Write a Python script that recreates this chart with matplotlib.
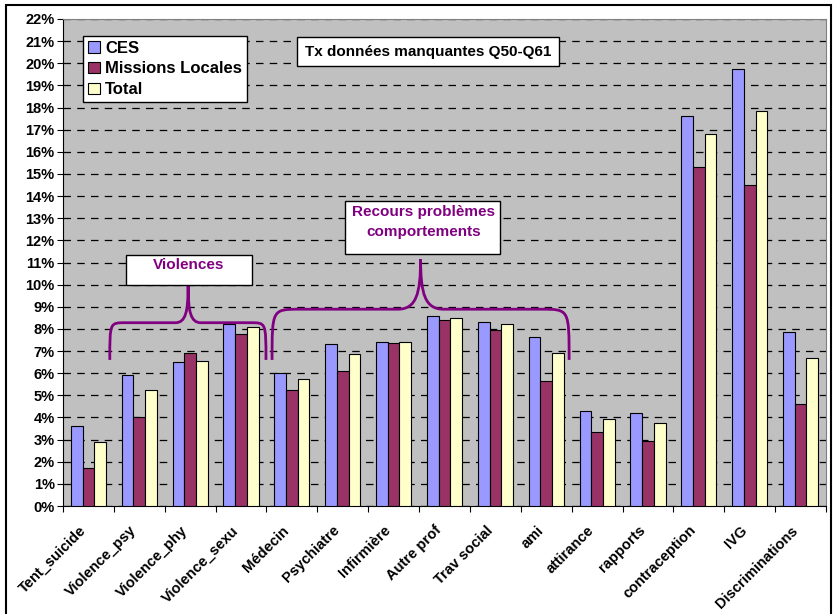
import numpy as np
import matplotlib.pyplot as plt
from matplotlib.patches import Rectangle, PathPatch
from matplotlib.path import Path

plt.rcParams['font.family'] = ['Liberation Sans', 'DejaVu Sans']
plt.rcParams['font.weight'] = 'bold'

# ---------------- Data ----------------
categories = ["Tent_suicide", "Violence_psy", "Violence_phy", "Violence_sexu",
              "Médecin", "Psychiatre", "Infirmière", "Autre prof", "Trav social",
              "ami", "attirance", "rapports", "contraception", "IVG",
              "Discriminations"]
ces = [3.6, 5.9, 6.5, 8.2, 6.0, 7.3, 7.4, 8.6, 8.3, 7.65, 4.3, 4.2, 17.6, 19.75, 7.85]
missions = [1.7, 4.0, 6.9, 7.75, 5.25, 6.1, 7.35, 8.4, 7.95, 5.65, 3.35, 2.95, 15.3, 14.5, 4.6]
total = [2.9, 5.25, 6.55, 8.1, 5.75, 6.85, 7.4, 8.5, 8.2, 6.9, 3.95, 3.75, 16.8, 17.85, 6.7]
series = [("CES", ces, "#9999FF"),
          ("Missions Locales", missions, "#993366"),
          ("Total", total, "#FFFFCC")]

purple = "#800080"

# ---------------- Figure ----------------
fig = plt.figure(figsize=(8.36, 6.14), dpi=100)
fig.patch.set_facecolor("white")
ax = fig.add_axes([63 / 836, 108 / 614, 763 / 836, 487 / 614])
ax.set_facecolor("#C0C0C0")

x = np.arange(len(categories))
w = 0.23
for i, (name, vals, col) in enumerate(series):
    ax.bar(x + (i - 1) * w, vals, width=w, color=col, edgecolor="black",
           linewidth=0.8, label=name, zorder=3)

ax.set_xlim(-0.5, len(categories) - 0.5)
ax.set_ylim(0, 22)
ax.set_yticks(np.arange(0, 23, 1))
ax.set_yticklabels([f"{v}%" for v in range(0, 23)], fontsize=10.5, fontweight="bold")
ax.yaxis.grid(True, color="black", linestyle=(0, (6, 5)), linewidth=0.9, zorder=0)
ax.set_axisbelow(True)

ax.set_xticks(x - 0.1)
ax.set_xticklabels(categories, rotation=45, ha="right", va="center",
                   rotation_mode="anchor", fontsize=10.5, fontweight="bold")
ax.set_xticks(np.arange(-0.5, len(categories), 1), minor=True)
ax.tick_params(axis="x", which="major", length=0, pad=16)
ax.tick_params(axis="x", which="minor", length=4, width=0.8, direction="out")
ax.tick_params(axis="y", length=4, width=0.8, pad=2)

ax.spines["left"].set_color("black")
ax.spines["bottom"].set_color("black")
ax.spines["top"].set_color("#808080")
ax.spines["right"].set_color("#808080")

leg = ax.legend(loc="upper left", bbox_to_anchor=(0.026, 0.966),
                prop={"weight": "bold", "size": 12}, frameon=True, fancybox=False,
                edgecolor="black", framealpha=1, borderpad=0.3, labelspacing=0.35,
                handlelength=0.7, handleheight=0.7, handletextpad=0.35,
                borderaxespad=0)
leg.get_frame().set_linewidth(1.0)

# ---------------- Title box ----------------
ax.text(6.68, 20.53, "Tx données manquantes Q50-Q61", ha="center", va="center",
        fontsize=11, fontweight="bold", zorder=6,
        bbox=dict(boxstyle="square,pad=0.5", facecolor="white", edgecolor="black", lw=1))

# ---------------- Group boxes ----------------
ax.add_patch(Rectangle((0.73, 9.99), 2.48, 1.35, facecolor="white", edgecolor="black",
                       lw=1, zorder=5, clip_on=False))
ax.text(1.97, 10.9, "Violences", ha="center", va="center", color=purple,
        fontsize=11, fontweight="bold", zorder=6)

ax.add_patch(Rectangle((5.05, 11.38), 3.04, 2.38, facecolor="white", edgecolor="black",
                       lw=1, zorder=5, clip_on=False))
ax.text(6.59, 13.3, "Recours problèmes", ha="center", va="center", color=purple,
        fontsize=11, fontweight="bold", zorder=6)
ax.text(6.59, 12.38, "comportements", ha="center", va="center", color=purple,
        fontsize=11, fontweight="bold", zorder=6)


# ---------------- Braces ----------------
def brace(x0, x1, xm, ybase, yh, ytip, r=0.25, rt=0.25):
    verts = [(x0, ybase), (x0, yh), (x0, yh), (x0 + r, yh),
             (xm - rt, yh),
             (xm - rt * 0.2, yh), (xm, yh + (ytip - yh) * 0.3), (xm, ytip),
             (xm, yh + (ytip - yh) * 0.3), (xm + rt * 0.2, yh), (xm + rt, yh),
             (x1 - r, yh),
             (x1, yh), (x1, yh), (x1, ybase)]
    codes = [Path.MOVETO, Path.CURVE4, Path.CURVE4, Path.CURVE4,
             Path.LINETO,
             Path.CURVE4, Path.CURVE4, Path.CURVE4,
             Path.CURVE4, Path.CURVE4, Path.CURVE4,
             Path.LINETO,
             Path.CURVE4, Path.CURVE4, Path.CURVE4]
    ax.add_patch(PathPatch(Path(verts, codes), facecolor="none", edgecolor=purple,
                           lw=2, zorder=4))


brace(0.42, 3.49, 1.96, 6.6, 8.28, 9.94, r=0.3, rt=0.25)
brace(3.61, 9.45, 6.53, 6.6, 8.89, 11.15, r=0.55, rt=0.45)

# ---------------- Outer frame ----------------
fig.add_artist(Rectangle((6 / 836, -0.05), 825 / 836, 1.05 - 5 / 614,
                         transform=fig.transFigure, facecolor="none",
                         edgecolor="black", lw=1.5))

fig.savefig("out.png", dpi=100)
